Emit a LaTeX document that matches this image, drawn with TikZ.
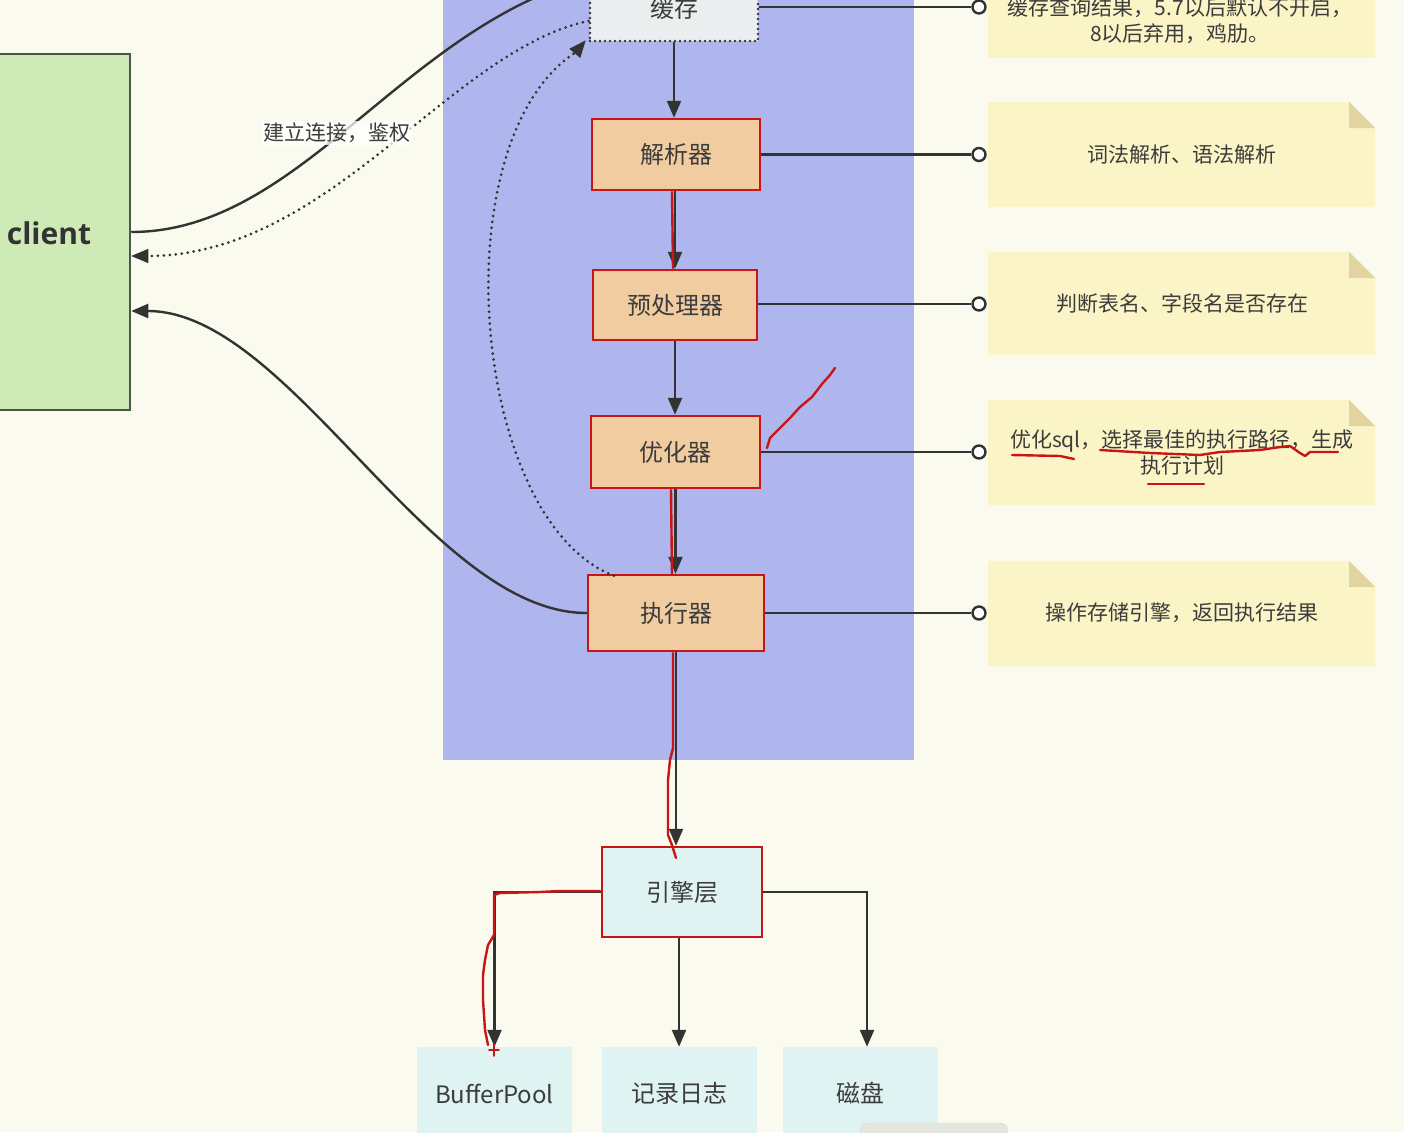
\documentclass[tikz,border=0pt]{standalone}
\usepackage{fontspec}
\setmainfont{Noto Sans CJK SC}
\newfontfamily\clientfont{Open Sans}
\usetikzlibrary{arrows.meta,calc}
\definecolor{bgc}{RGB}{250,250,238}
\definecolor{panel}{RGB}{174,182,237}
\definecolor{procfill}{RGB}{240,204,160}
\definecolor{cachefill}{RGB}{234,238,238}
\definecolor{cyanfill}{RGB}{224,243,243}
\definecolor{clientfill}{RGB}{206,235,183}
\definecolor{clientline}{RGB}{75,85,75}
\definecolor{notefill}{RGB}{251,244,198}
\definecolor{foldfill}{RGB}{226,212,160}
\definecolor{ink}{RGB}{51,51,51}
\definecolor{txt}{RGB}{60,60,60}
\definecolor{redmark}{RGB}{200,22,22}
\definecolor{tabgray}{RGB}{230,230,224}
\newcommand\notebg[2]{%
  \fill[notefill] (988,#1) -- (1349,#1) -- (1375,{#1+26}) -- (1375,#2) -- (988,#2) -- cycle;
  \fill[foldfill] (1349,#1) -- (1375,{#1+26}) -- (1349,{#1+26}) -- cycle;}
\begin{document}
\begin{tikzpicture}[x=1pt,y=-1pt,
  conn/.style={draw=ink,line width=2.4pt},
  tipd/.style={-{Triangle[length=17pt,width=14pt]}},
  dotl/.style={draw=ink,line width=3pt,line cap=round,dash pattern=on 0pt off 6pt},
  proc/.style={draw=redmark,line width=2.5pt,fill=procfill,text=txt,font=\fontsize{24}{28}\selectfont,inner sep=0pt},
  lower/.style={fill=cyanfill,text=txt,font=\fontsize{24}{28}\selectfont,inner sep=0pt,minimum width=155pt,minimum height=93pt},
  notetext/.style={text=txt,font=\fontsize{21}{26}\selectfont,align=center,inner sep=0pt},
  ring/.style={circle,draw=ink,line width=2.4pt,fill=white,minimum size=13pt,inner sep=0pt},
  redl/.style={draw=redmark,line width=2.4pt,line cap=round,line join=round}]
\clip (0,0) rectangle (1404,1132);
\fill[bgc] (0,0) rectangle (1404,1132);
\fill[panel] (443,-5) rectangle (914,760);
% notes
\notebg{-50}{58}
\notebg{102}{207}
\notebg{252}{355}
\notebg{400}{505}
\notebg{561}{666}
\node[notetext] (n1) at (1180,21) {缓存查询结果，5.7以后默认不开启，\\8以后弃用，鸡肋。};
\node[notetext] (n2) at (1182,155) {词法解析、语法解析};
\node[notetext] (n3) at (1182,304) {判断表名、字段名是否存在};
\node[notetext] (n4) at (1182,453) {优化sql，选择最佳的执行路径，生成\\执行计划};
\node[notetext] (n5) at (1182,613) {操作存储引擎，返回执行结果};
% nodes
\node[draw=clientline,line width=2.5pt,fill=clientfill,minimum width=162pt,minimum height=356pt,inner sep=0pt] (client) at (49,232) {};
\node[text=ink,font=\clientfont\bfseries\fontsize{30}{34}\selectfont] (clientlbl) at (49,233) {client};
\node[draw=ink,line width=2.6pt,line cap=round,dash pattern=on 0pt off 5pt,fill=cachefill,text=txt,font=\fontsize{24}{28}\selectfont,minimum width=168pt,minimum height=66pt,inner sep=0pt] (cache) at (674,8) {缓存};
\node[proc,minimum width=168pt,minimum height=71pt] (parser) at (676,154.5) {解析器};
\node[proc,minimum width=164pt,minimum height=70pt] (pre) at (675,305) {预处理器};
\node[proc,minimum width=169pt,minimum height=72pt] (opt) at (675.5,452) {优化器};
\node[proc,minimum width=176pt,minimum height=76pt] (exe) at (676,613) {执行器};
\node[draw=redmark,line width=2.5pt,fill=cyanfill,text=txt,font=\fontsize{24}{28}\selectfont,minimum width=160pt,minimum height=90pt,inner sep=0pt] (eng) at (682,892) {引擎层};
\node[lower] (bp) at (494.5,1093.5) {BufferPool};
\node[lower] (log) at (679,1093.5) {记录日志};
\node[lower] (disk) at (860.5,1093.5) {磁盘};
% rings
\node[ring] (r1) at (979,7) {};
\node[ring] (r2) at (979,154.5) {};
\node[ring] (r3) at (979,304) {};
\node[ring] (r4) at (979,452) {};
\node[ring] (r5) at (979,613) {};
\draw[conn] (cache.east |- r1) -- (r1);
\draw[conn] (parser.east) -- (r2);
\draw[conn] (pre.east |- r3) -- (r3);
\draw[conn] (opt.east) -- (r4);
\draw[conn] (exe.east) -- (r5);
% vertical flow
\draw[conn,tipd] (cache.south) -- (cache.south |- parser.north);
\draw[conn,tipd] (parser.south -| pre.north) -- (pre.north);
\draw[conn,tipd] (pre.south) -- (pre.south |- opt.north);
\draw[conn,tipd] (opt.south) -- (opt.south |- exe.north);
\draw[conn,tipd] (exe.south) -- (exe.south |- eng.north);
\draw[conn,tipd] (eng.west) -| (bp.north);
\draw[conn,tipd] (eng.south -| log.north) -- (log.north);
\draw[conn,tipd] (eng.east) -| ($(disk.north)+(6.5,0)$);
% client curves
\coordinate (cacheIn) at ([yshift=30pt]cache.west);
\coordinate (cacheOut) at ([yshift=-13pt]cache.west);
\coordinate (exeTop) at ([xshift=27pt,yshift=-2pt]exe.north west);
\coordinate (clLow) at ([yshift=-79pt]client.east);
\coordinate (clMid) at ([yshift=-24pt]client.east);
\draw[conn] (client.east) .. controls (300,232) and (400,30) .. (cacheIn);
\draw[dotl] (cacheOut) .. controls (450,50) and (330,256) .. ([xshift=16pt]clMid);
\draw[ink,-{Triangle[length=17pt,width=14pt]},line width=1pt] ([xshift=16pt]clMid) -- (clMid);
\draw[dotl] (exeTop) .. controls (470,520) and (440,140) .. ($(cache.south west)+(-13,10)$);
\draw[ink,-{Triangle[length=17pt,width=14pt]},line width=1pt] ($(cache.south west)+(-13,10)$) -- ($(cache.south west)+(-3,-2)$);
\draw[conn,tipd] (exe.west) .. controls (430,613) and (290,311) .. (clLow);
\node[fill=white,fill opacity=0.75,text opacity=1,text=txt,font=\fontsize{21}{26}\selectfont,inner sep=1.5pt] (lab) at (337,133) {建立连接，鉴权};
% bottom tab
\fill[tabgray,draw=black!15,rounded corners=8pt] (860,1123) rectangle (1008,1150);
% red annotations
\draw[redl] (672,192) -- (673,268);
\draw[redl] (671,490) -- (672,575);
\draw[redl] (673,653) -- (673,748) -- (670,760) -- (668,780) -- (668,835) -- (672,845) -- (676,858);
\draw[redl] (600,891) -- (560,891) -- (540,892) -- (500,893) -- (494,895) -- (494,935) -- (488,945) -- (485,960) -- (483,975) -- (483,1000) -- (485,1030) -- (488,1045);
\draw[redl,line width=1.8pt] (494,1044) -- (494,1056) (489,1050) -- (499,1050);
\draw[redl] (767,448) -- (770,438) -- (780,428) -- (790,418) -- (800,407) -- (812,397) -- (822,384) -- (830,375) -- (835,368);
\draw[redl] (1012,455) -- (1060,456) -- (1074,459);
\draw[redl] (1100,450) -- (1150,453) -- (1200,455) -- (1220,452) -- (1260,450) -- (1280,447) -- (1290,446) -- (1300,453) -- (1305,456) -- (1310,452) -- (1338,452);
\draw[redl] (1148,484) -- (1204,484);
\end{tikzpicture}
\end{document}
